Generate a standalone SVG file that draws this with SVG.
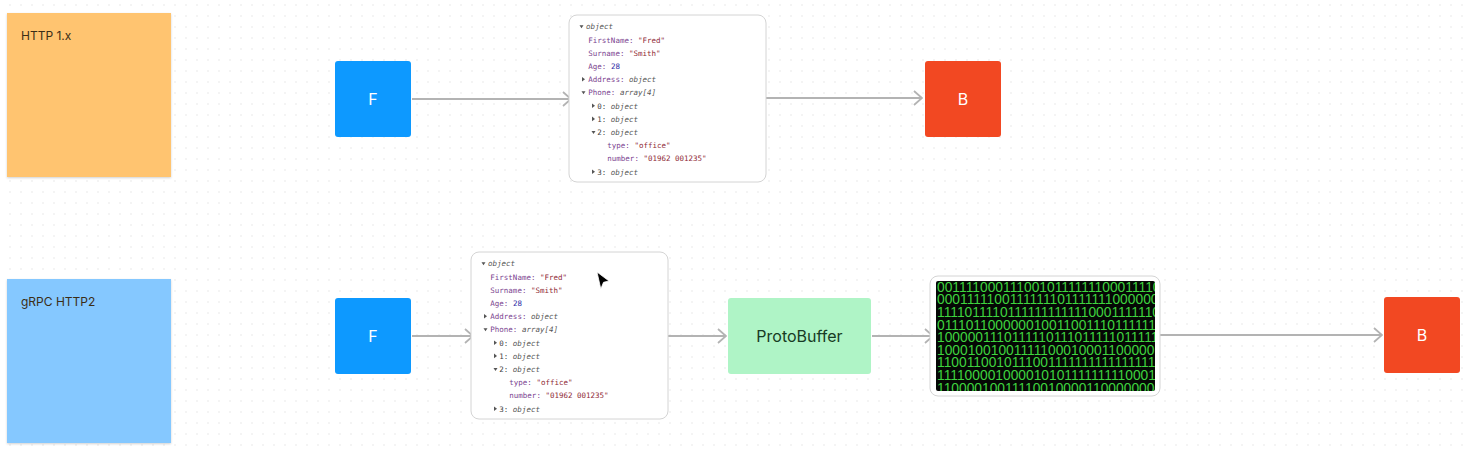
<svg xmlns="http://www.w3.org/2000/svg" xmlns:xlink="http://www.w3.org/1999/xlink" width="1465" height="451" viewBox="0 0 1465 451">
<style>
.sticky-text{font-family:Inter,"Liberation Sans",sans-serif;font-size:12px;fill:#3b2d16}
.node-text{font-family:Inter,"Liberation Sans",sans-serif;font-size:16px;fill:#ffffff;text-anchor:middle;dominant-baseline:central}
.pb-text{font-family:Inter,"Liberation Sans",sans-serif;font-size:16px;fill:#173b24;text-anchor:middle;dominant-baseline:central}
.mono{font-family:"DejaVu Sans Mono","Liberation Mono",monospace;font-size:7.5px;fill:#444}
.k{fill:#7b3f8f}
.s{fill:#8f2a36}
.n{fill:#2f2ea6}
.o{fill:#555;font-style:italic}
.tri{fill:#555}
.card{fill:#ffffff;stroke:#d4d4d4;stroke-width:1}
.conn{fill:none;stroke:#b3b3b3;stroke-width:1.8}
.bin{font-family:"Liberation Sans",Arial,sans-serif;font-size:13.8px;fill:#3fd33f}
</style>
<defs>
<pattern id="dots" width="11" height="11" patternUnits="userSpaceOnUse">
<rect x="9.5" y="4.5" width="1" height="1" fill="#d3d3d3"/>
</pattern>
<filter id="shadow" x="-10%" y="-10%" width="120%" height="125%">
<feDropShadow dx="0" dy="1" stdDeviation="1.2" flood-color="#000" flood-opacity="0.18"/>
</filter>
<marker id="chev" viewBox="0 0 10 16" refX="9" refY="8" markerWidth="10" markerHeight="16" markerUnits="userSpaceOnUse" orient="auto">
<polyline points="1,1 9,8 1,15" fill="none" stroke="#b3b3b3" stroke-width="1.8"/>
</marker>
<clipPath id="binclip"><rect x="936" y="281" width="219" height="110" rx="2"/></clipPath>
<g id="jsonContent">
<rect class="card" x="0" y="0" width="197" height="167" rx="8"/>
<g class="mono">
<polygon class="tri" points="10.5,10.3 14.5,10.3 12.5,13.3"/>
<text x="17" y="14.4" class="o">object</text>
<text x="19.3" y="27.6"><tspan class="k">FirstName:</tspan> <tspan class="s">"Fred"</tspan></text>
<text x="19.3" y="40.8"><tspan class="k">Surname:</tspan> <tspan class="s">"Smith"</tspan></text>
<text x="19.3" y="54"><tspan class="k">Age:</tspan> <tspan class="n">28</tspan></text>
<polygon class="tri" points="13,62 16,64.3 13,66.6"/>
<text x="19.3" y="67.2"><tspan class="k">Address:</tspan> <tspan class="o">object</tspan></text>
<polygon class="tri" points="12.5,76.3 16.5,76.3 14.5,79.3"/>
<text x="19.3" y="80.4"><tspan class="k">Phone:</tspan> <tspan class="o">array[4]</tspan></text>
<polygon class="tri" points="23,88.4 26,90.7 23,93"/>
<text x="28.3" y="93.6">0: <tspan class="o">object</tspan></text>
<polygon class="tri" points="23,101.6 26,103.9 23,106.2"/>
<text x="28.3" y="106.8">1: <tspan class="o">object</tspan></text>
<polygon class="tri" points="22.5,116 26.5,116 24.5,119"/>
<text x="28.3" y="120">2: <tspan class="o">object</tspan></text>
<text x="38.3" y="133.2"><tspan class="k">type:</tspan> <tspan class="s">"office"</tspan></text>
<text x="38.3" y="146.4"><tspan class="k">number:</tspan> <tspan class="s">"01962 001235"</tspan></text>
<polygon class="tri" points="23,154.4 26,156.7 23,159"/>
<text x="28.3" y="159.6">3: <tspan class="o">object</tspan></text>
</g>
</g>
</defs>
<rect width="1465" height="451" fill="#ffffff"/>
<rect width="1465" height="451" fill="url(#dots)"/>

<g id="sticky-http1">
<rect x="7" y="13" width="164" height="164" fill="#FFC470" filter="url(#shadow)"/>
<text class="sticky-text" x="21" y="40">HTTP 1.x</text>
</g>
<g id="sticky-grpc">
<rect x="7" y="279" width="164" height="164" fill="#85C8FF" filter="url(#shadow)"/>
<text class="sticky-text" x="21" y="306">gRPC HTTP2</text>
</g>

<g id="connectors">
<line class="conn" x1="412" y1="99" x2="571" y2="99" marker-end="url(#chev)"/>
<line class="conn" x1="765" y1="98" x2="922" y2="98" marker-end="url(#chev)"/>
<line class="conn" x1="412" y1="336" x2="473" y2="336" marker-end="url(#chev)"/>
<line class="conn" x1="667" y1="336" x2="726" y2="336" marker-end="url(#chev)"/>
<line class="conn" x1="872" y1="336" x2="933" y2="336" marker-end="url(#chev)"/>
<line class="conn" x1="1157" y1="335" x2="1382" y2="335" marker-end="url(#chev)"/>
</g>

<g id="node-f-top">
<rect x="335" y="61" width="76" height="76" rx="3" fill="#0D99FF"/>
<text class="node-text" x="373" y="99">F</text>
</g>
<g id="json-top">
<use xlink:href="#jsonContent" href="#jsonContent" x="569" y="15"/>
</g>
<g id="node-b-top">
<rect x="925" y="61" width="76" height="76" rx="3" fill="#F24822"/>
<text class="node-text" x="963" y="99">B</text>
</g>

<g id="node-f-bottom">
<rect x="335" y="298" width="76" height="76" rx="3" fill="#0D99FF"/>
<text class="node-text" x="373" y="336">F</text>
</g>
<g id="json-bottom">
<use xlink:href="#jsonContent" href="#jsonContent" x="471" y="252"/>
</g>
<g id="node-protobuffer">
<rect x="728" y="298" width="143" height="76" rx="3" fill="#AFF4C6"/>
<text class="pb-text" x="799.5" y="336">ProtoBuffer</text>
</g>
<g id="node-binary">
<rect x="930" y="276" width="230" height="120" rx="8" fill="#ffffff" stroke="#d4d4d4" stroke-width="1"/>
<rect x="936" y="281" width="219" height="110" rx="2" fill="#050805"/>
<g clip-path="url(#binclip)" class="bin">
<text x="937" y="291.5">001111000111001011111110001111000</text>
<text x="937" y="304.2">000111110011111110111111100000000</text>
<text x="937" y="316.8">111101111011111111111100011111100</text>
<text x="937" y="329.5">011101100000010011001110111111100</text>
<text x="937" y="342.1">100000111011111011101111101111100</text>
<text x="937" y="354.8">100010010011111000100011000001100</text>
<text x="937" y="367.4">110011001011100111111111111111100</text>
<text x="937" y="380.1">111100001000010101111111110001100</text>
<text x="937" y="392.7">110000100111100100001100000000000</text>
</g>
</g>
<g id="node-b-bottom">
<rect x="1384" y="297" width="76" height="76" rx="3" fill="#F24822"/>
<text class="node-text" x="1422" y="335">B</text>
</g>

<g id="cursor">
<polygon points="597,272 609,281 603.5,282.3 600.8,289" fill="#000" stroke="#fff" stroke-width="0.8" stroke-linejoin="round"/>
</g>
</svg>
